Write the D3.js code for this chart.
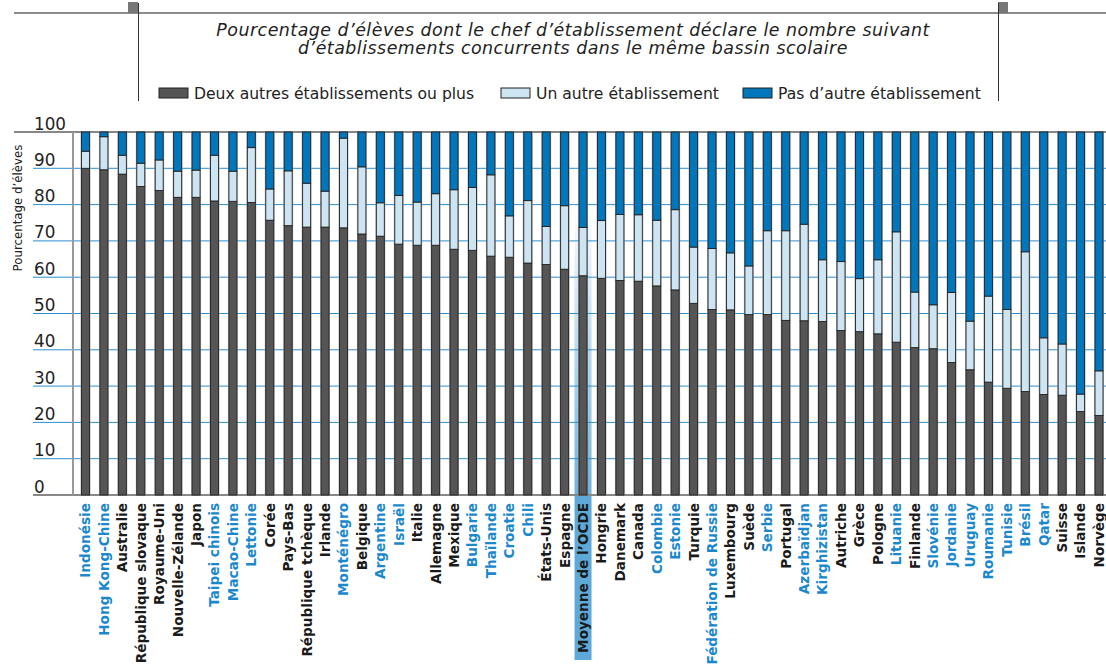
<!DOCTYPE html>
<html><head><meta charset="utf-8">
<script src="https://cdn.jsdelivr.net/npm/d3@7"></script>
<style>body{margin:0;background:#fff;} svg{display:block;}</style>
</head><body>
<svg id="c" width="1106" height="669"></svg>
<script>
const countries = ["Indonésie","Hong Kong-Chine","Australie","République slovaque","Royaume-Uni","Nouvelle-Zélande","Japon","Taipei chinois","Macao-Chine","Lettonie","Corée","Pays-Bas","République tchèque","Irlande","Monténégro","Belgique","Argentine","Israël","Italie","Allemagne","Mexique","Bulgarie","Thaïlande","Croatie","Chili","États-Unis","Espagne","Moyenne de l’OCDE","Hongrie","Danemark","Canada","Colombie","Estonie","Turquie","Fédération de Russie","Luxembourg","Suède","Serbie","Portugal","Azerbaïdjan","Kirghizistan","Autriche","Grèce","Pologne","Lituanie","Finlande","Slovénie","Jordanie","Uruguay","Roumanie","Tunisie","Brésil","Qatar","Suisse","Islande","Norvège"];
const partners = ["Indonésie","Hong Kong-Chine","Taipei chinois","Macao-Chine","Lettonie","Monténégro","Argentine","Israël","Bulgarie","Thaïlande","Croatie","Chili","Colombie","Estonie","Fédération de Russie","Serbie","Azerbaïdjan","Kirghizistan","Lituanie","Slovénie","Jordanie","Uruguay","Roumanie","Tunisie","Brésil","Qatar"];
const twoOrMore = [90.0,89.6,88.4,85.0,83.9,82.0,82.0,81.0,80.9,80.6,75.7,74.2,73.8,73.8,73.6,71.9,71.3,69.1,68.8,68.8,67.7,67.4,65.8,65.5,63.9,63.5,62.2,60.4,59.7,59.1,58.9,57.6,56.5,52.8,51.1,51.0,49.7,49.7,48.1,48.0,47.8,45.3,45.0,44.4,42.1,40.6,40.3,36.5,34.5,31.1,29.4,28.5,27.7,27.5,23.0,21.9];
const oneOther = [4.7,9.1,5.2,6.4,8.4,7.2,7.5,12.6,8.3,15.1,8.6,15.1,12.1,9.9,24.7,18.5,9.2,13.4,11.9,14.2,16.4,17.3,22.4,11.4,17.2,10.5,17.5,13.3,15.9,18.2,18.3,18.1,22.1,15.5,16.8,15.7,13.4,23.1,24.7,26.6,17.0,19.0,14.6,20.4,30.4,15.3,12.1,19.3,13.4,23.7,21.7,38.5,15.6,14.1,4.8,12.3];
const noOther = twoOrMore.map((d,i)=>+(100-d-oneOther[i]).toFixed(1));
const seriesNames = ["Deux autres établissements ou plus","Un autre établissement","Pas d’autre établissement"];
const seriesColors = ["#555555","#cde4f2","#0077bd"];
const yTicks = [0,10,20,30,40,50,60,70,80,90,100];
const titleLines = ["Pourcentage d’élèves dont le chef d’établissement déclare le nombre suivant","d’établissements concurrents dans le même bassin scolaire"];
const yLabel = "Pourcentage d’élèves";
const oecdLabel = "Moyenne de l’OCDE";

const svg = d3.select("#c");
const font = "'DejaVu Sans', sans-serif";
const x = d3.scalePoint().domain(countries).range([85.5, 1099]);
const y = d3.scaleLinear().domain([0,100]).range([495,132]);
const bw = 8;

// frame
svg.append("line").attr("x1",14).attr("x2",1106).attr("y1",13).attr("y2",13).attr("stroke","#666").attr("stroke-width",1.5);
svg.append("rect").attr("x",128).attr("y",2).attr("width",10).attr("height",11).attr("fill","#777");
svg.append("rect").attr("x",998).attr("y",2).attr("width",10).attr("height",11).attr("fill","#777");
svg.append("line").attr("x1",138.5).attr("x2",138.5).attr("y1",3).attr("y2",101).attr("stroke","#333").attr("stroke-width",1);
svg.append("line").attr("x1",998.5).attr("x2",998.5).attr("y1",3).attr("y2",101).attr("stroke","#333").attr("stroke-width",1);

// title
svg.append("g").selectAll("text").data(titleLines).join("text")
  .attr("x",573).attr("y",(d,i)=>35.7+i*18.5).attr("text-anchor","middle")
  .attr("font-family",font).attr("font-style","italic").attr("font-size",17.4).attr("letter-spacing",0.5)
  .attr("fill","#222").text(d=>d);

// legend
const legX = [159, 501, 743];
const lg = svg.append("g").selectAll("g").data(seriesNames).join("g")
  .attr("transform",(d,i)=>`translate(${legX[i]},88)`);
lg.append("rect").attr("width",29).attr("height",10).attr("fill",(d,i)=>seriesColors[i]).attr("stroke","#222").attr("stroke-width",1);
lg.append("text").attr("x",35).attr("y",10.5).attr("font-family",font).attr("font-size",15.6).attr("fill","#222").text(d=>d);

// OECD highlight
const defs = svg.append("defs");
const gr = defs.append("linearGradient").attr("id","hl").attr("x1",0).attr("x2",0).attr("y1",0).attr("y2",1);
gr.append("stop").attr("offset","0%").attr("stop-color","#5ea9d8").attr("stop-opacity",0);
gr.append("stop").attr("offset","100%").attr("stop-color","#5ea9d8").attr("stop-opacity",0.9);
const ox = x(oecdLabel);
svg.append("rect").attr("x",ox-8.5).attr("y",y(80)).attr("width",17).attr("height",y(0)-y(80)).attr("fill","url(#hl)");
svg.append("rect").attr("x",ox-8.5).attr("y",495).attr("width",17).attr("height",165).attr("fill","#5ea9d8");

// gridlines
svg.append("g").selectAll("line").data(yTicks.filter(t=>t>0&&t<100)).join("line")
  .attr("x1",33).attr("x2",1106).attr("y1",d=>y(d)).attr("y2",d=>y(d))
  .attr("stroke","#2a8fd0").attr("stroke-width",1);
svg.append("line").attr("x1",14).attr("x2",1106).attr("y1",y(100)).attr("y2",y(100)).attr("stroke","#111").attr("stroke-width",1.2);
svg.append("line").attr("x1",33).attr("x2",1106).attr("y1",y(0)).attr("y2",y(0)).attr("stroke","#888").attr("stroke-width",2);
svg.append("line").attr("x1",73).attr("x2",73).attr("y1",y(100)).attr("y2",y(0)).attr("stroke","#999").attr("stroke-width",2);

// tick labels
svg.append("g").selectAll("text").data(yTicks).join("text")
  .attr("x",34).attr("y",d=>y(d)-2.5).attr("font-family",font).attr("font-size",16.8).attr("fill","#222").text(d=>d);

// y label
svg.append("text").attr("transform","translate(22,208) rotate(-90)").attr("text-anchor","middle")
  .attr("font-family",font).attr("font-size",11.8).attr("fill","#222").text(yLabel);

// bars
const stackData = countries.map((c,i)=>({c, a:twoOrMore[i], b:oneOther[i], n:noOther[i]}));
const stack = d3.stack().keys(["a","b","n"])(stackData);
const bg = svg.append("g");
bg.selectAll("rect.halo").data(stackData).join("rect").attr("class","halo")
  .attr("x",d=>x(d.c)-bw/2-1).attr("width",bw+2).attr("y",y(100)).attr("height",y(0)-y(100))
  .attr("fill","#9a9a9a").attr("opacity",0.7);
stack.forEach((s,k)=>{
  bg.append("g").selectAll("rect").data(s).join("rect")
    .attr("x",d=>x(d.data.c)-bw/2).attr("width",bw)
    .attr("y",d=>y(d[1])).attr("height",d=>y(d[0])-y(d[1]))
    .attr("fill",seriesColors[k]).attr("stroke","#222").attr("stroke-width",0.9);
});

// category labels
svg.append("g").selectAll("text").data(countries).join("text")
  .attr("transform",d=>`translate(${x(d)},503) rotate(-90)`)
  .attr("text-anchor","end").attr("dy","0.36em")
  .attr("font-family",font).attr("font-weight","bold").attr("font-size",13.6)
  .attr("fill",d=>partners.includes(d)?"#1a88cc":"#1a1a1a").text(d=>d);
</script>
</body></html>
